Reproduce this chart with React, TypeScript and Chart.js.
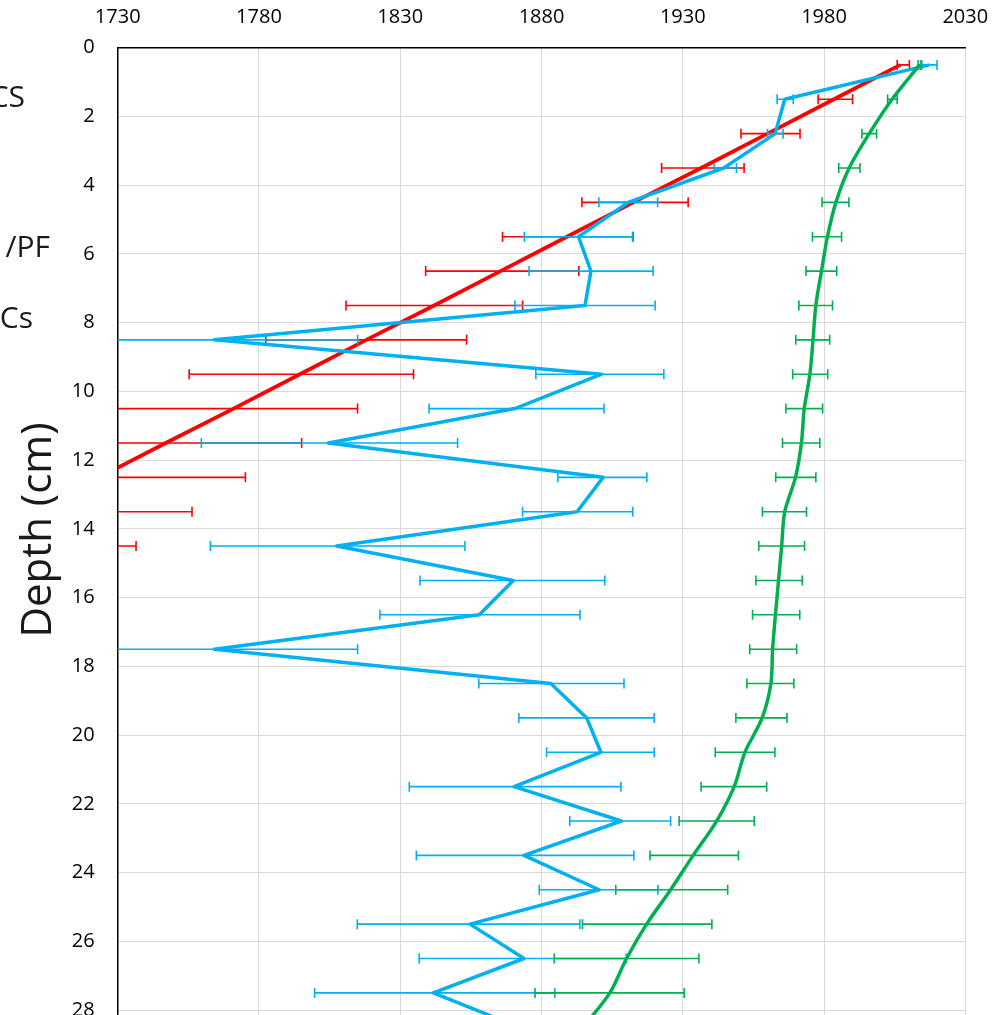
import React, { useEffect, useRef } from "react";
import { Chart, registerables } from "chart.js";

Chart.register(...registerables);

// ---------- data ----------
const depths = [
  0.5, 1.5, 2.5, 3.5, 4.5, 5.5, 6.5, 7.5, 8.5, 9.5, 10.5, 11.5, 12.5, 13.5, 14.5,
  15.5, 16.5, 17.5, 18.5, 19.5, 20.5, 21.5, 22.5, 23.5, 24.5, 25.5, 26.5, 27.5, 28.5,
];

const xTickValues = [1730, 1780, 1830, 1880, 1930, 1980, 2030];
const yTickValues = [0, 2, 4, 6, 8, 10, 12, 14, 16, 18, 20, 22, 24, 26, 28, 30];

const redYears = [2007, 1983.5, 1960, 1936.5, 1912.5, 1889, 1865.5, 1842, 1818, 1794.5, 1771, 1747, 1723.5, 1700, 1676];
const redLow = [2005.9, 1977.9, 1950.6, 1922.5, 1894.3, 1866.2, 1839, 1810.8, 1782.4, 1755.3, 1726, 1699, 1672, 1644, 1615];
const redHigh = [2010.2, 1990.1, 1971.5, 1951.7, 1931.9, 1912.4, 1893.2, 1873.3, 1853.5, 1834.7, 1814.9, 1795.1, 1775.2, 1756.3, 1736.5];

const blueYears = [
  2017.3, 1966.1, 1962.7, 1944.5, 1910.7, 1893.1, 1897.5, 1895.4, 1764.2, 1901.3, 1870.6, 1804.5, 1901.8, 1892.6, 1807.5,
  1870, 1858, 1764.2, 1883.3, 1896, 1901, 1870.3, 1908.3, 1873.8, 1900.4, 1854.7, 1873.8, 1841.7, 1872,
];
const blueLow = [
  2014.6, 1963.4, 1960, 1941.1, 1900.3, 1873.9, 1875.6, 1870.6, 1713.5, 1878, 1840.2, 1759.6, 1885.8, 1873.3, 1762.8,
  1837, 1822.8, 1713.5, 1857.8, 1872, 1881.8, 1833.2, 1890, 1835.7, 1879.2, 1814.8, 1836.7, 1799.7,
];
const blueHigh = [
  2020, 1969.1, 1965.5, 1949, 1921.1, 1912.2, 1919.5, 1920.2, 1814.9, 1923.3, 1902.1, 1850.3, 1917.3, 1912.3, 1852.9,
  1902.4, 1893.6, 1814.9, 1909.2, 1919.9, 1919.9, 1908.1, 1925.7, 1912.7, 1921.2, 1893.6, 1910, 1884.7,
];

const greenYears = [
  2013.8, 2004.1, 1996, 1988.9, 1984.2, 1981.2, 1979.1, 1977.1, 1976.1, 1975, 1973, 1972, 1969.9, 1966.1, 1965,
  1963.9, 1962.8, 1961.8, 1961.2, 1958.1, 1952, 1948.2, 1942, 1933.7, 1925.7, 1917.2, 1910.1, 1904.2, 1894.7,
];
const greenLow = [
  2013.3, 2002.5, 1993.4, 1985.2, 1979.3, 1975.9, 1973.6, 1971.1, 1970, 1968.9, 1966.5, 1965.3, 1962.9, 1958.2, 1956.9,
  1955.9, 1954.7, 1953.7, 1952.7, 1948.8, 1941.5, 1936.5, 1928.7, 1918.4, 1906.3, 1894.5, 1884.5, 1877.7,
];
const greenHigh = [
  2014.3, 2005.9, 1998.6, 1992.7, 1988.8, 1986.2, 1984.5, 1983, 1982, 1981.3, 1979.5, 1978.5, 1977.1, 1973.8, 1973.1,
  1972.3, 1971.4, 1970.3, 1969.3, 1966.9, 1962.6, 1959.7, 1955.3, 1949.7, 1945.9, 1940.3, 1935.7, 1930.5,
];

const axisTitle = "Depth (cm)";
const legendFragments = ["CS", "/PF", "Cs"];

// ---------- styling / layout ----------
const RED = "#FF0000";
const BLUE = "#00B0F0";
const GREEN = "#00B050";
const FONT = '"Open Sans", "Noto Sans", sans-serif';
const legendPos = [
  { x: 25, y: 107 },
  { x: 50, y: 257 },
  { x: 33, y: 328 },
];
const titlePos = { x: 51, y: 530 };

const errorBars: Record<string, { low: number[]; high: number[]; color: string }> = {
  red: { low: redLow, high: redHigh, color: RED },
  blue: { low: blueLow, high: blueHigh, color: BLUE },
  green: { low: greenLow, high: greenHigh, color: GREEN },
};

const toPoints = (years: number[]) => years.map((x, i) => ({ x, y: depths[i] }));

const errorBarPlugin = {
  id: "errorBars",
  afterDatasetDraw(chart: any, args: any) {
    const ds = chart.data.datasets[args.index];
    const eb = errorBars[ds.label];
    if (!eb) return;
    const { ctx, chartArea, scales } = chart;
    ctx.save();
    ctx.beginPath();
    ctx.rect(chartArea.left, chartArea.top, chartArea.right - chartArea.left, chartArea.bottom - chartArea.top);
    ctx.clip();
    ctx.strokeStyle = eb.color;
    ctx.lineWidth = 1.6;
    eb.low.forEach((lo, i) => {
      const hi = eb.high[i];
      const y = scales.y.getPixelForValue(depths[i]);
      const x1 = scales.x.getPixelForValue(lo);
      const x2 = scales.x.getPixelForValue(hi);
      ctx.beginPath();
      ctx.moveTo(x1, y);
      ctx.lineTo(x2, y);
      ctx.moveTo(x1, y - 5);
      ctx.lineTo(x1, y + 5);
      ctx.moveTo(x2, y - 5);
      ctx.lineTo(x2, y + 5);
      ctx.stroke();
    });
    ctx.restore();
  },
};

const textPlugin = {
  id: "texts",
  afterDraw(chart: any) {
    const ctx = chart.ctx;
    ctx.save();
    ctx.fillStyle = "#1a1a1a";
    ctx.font = `30px ${FONT}`;
    ctx.textAlign = "right";
    ctx.textBaseline = "alphabetic";
    legendFragments.forEach((t, i) => ctx.fillText(t, legendPos[i].x, legendPos[i].y));
    ctx.translate(titlePos.x, titlePos.y);
    ctx.rotate(-Math.PI / 2);
    ctx.textAlign = "center";
    ctx.font = `42px ${FONT}`;
    ctx.fillText(axisTitle, 0, 0);
    ctx.restore();
  },
};

export default function App() {
  const ref = useRef<HTMLCanvasElement>(null);
  useEffect(() => {
    const canvas = ref.current!;
    const chart = new Chart(canvas, {
      type: "scatter",
      data: {
        datasets: [
          {
            label: "green",
            data: toPoints(greenYears),
            showLine: true,
            borderColor: GREEN,
            backgroundColor: GREEN,
            borderWidth: 3.5,
            borderJoinStyle: "round",
            pointRadius: 0,
            tension: 0.3,
            order: 0,
            clip: 0,
          },
          {
            label: "blue",
            data: toPoints(blueYears),
            showLine: true,
            borderColor: BLUE,
            backgroundColor: BLUE,
            borderWidth: 3.5,
            borderJoinStyle: "round",
            pointRadius: 0,
            tension: 0,
            order: 1,
            clip: 0,
          },
          {
            label: "red",
            data: toPoints(redYears),
            showLine: true,
            borderColor: RED,
            backgroundColor: RED,
            borderWidth: 3.8,
            borderJoinStyle: "round",
            pointRadius: 0,
            tension: 0,
            order: 2,
            clip: 0,
          },
        ] as any,
      },
      options: {
        responsive: false,
        animation: false,
        devicePixelRatio: 1,
        layout: { padding: { left: 0, top: 0, right: 29.7, bottom: 21.2 } },
        plugins: { legend: { display: false }, tooltip: { enabled: false } },
        scales: {
          x: {
            type: "linear",
            position: "top",
            min: 1730,
            max: 2030,
            afterBuildTicks: (s: any) => {
              s.ticks = xTickValues.map((v) => ({ value: v }));
            },
            afterFit: (s: any) => {
              s.height = 47.7;
              s.paddingLeft = 0;
              s.paddingRight = 0;
            },
            ticks: {
              font: { family: FONT, size: 20 },
              color: "#000",
              padding: 18,
              maxRotation: 0,
              autoSkip: false,
              callback: (v: any) => String(v),
            },
            grid: { color: "#d9d9d9", lineWidth: 1, drawTicks: false },
            border: { display: true, color: "#000", width: 1.5 },
          },
          y: {
            type: "linear",
            position: "left",
            reverse: true,
            min: 0,
            max: 30,
            afterBuildTicks: (s: any) => {
              s.ticks = yTickValues.map((v) => ({ value: v }));
            },
            afterFit: (s: any) => {
              s.width = 117.7;
              s.paddingTop = 0;
              s.paddingBottom = 0;
            },
            ticks: {
              font: { family: FONT, size: 20 },
              color: "#000",
              padding: 23,
              autoSkip: false,
              callback: (v: any) => String(v),
            },
            grid: { color: "#d9d9d9", lineWidth: 1, drawTicks: false },
            border: { display: true, color: "#000", width: 1.5 },
          },
        },
      } as any,
      plugins: [errorBarPlugin, textPlugin],
    });
    return () => chart.destroy();
  }, []);

  return (
    <div
      style={{
        position: "fixed",
        left: 0,
        top: 0,
        width: 995,
        height: 1015,
        overflow: "hidden",
        background: "#fff",
      }}
    >
      <canvas ref={ref} width={995} height={1100} style={{ display: "block", width: 995, height: 1100 }} />
    </div>
  );
}
